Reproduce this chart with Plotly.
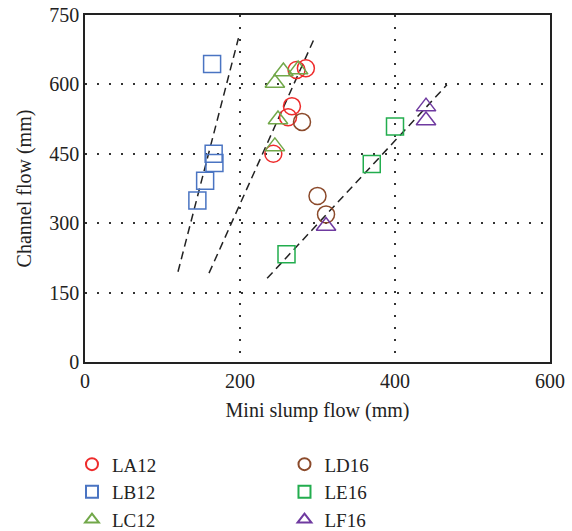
import plotly.graph_objects as go

# Mini slump flow (x) vs channel flow (y), in mm
la12_x = [243, 262, 267, 273, 285]
la12_y = [450, 529, 553, 631, 635]
lb12_x = [145, 155, 167, 166, 164]
lb12_y = [349, 392, 430, 450, 644]
lc12_x = [245, 256, 275, 249, 245]
lc12_y = [603, 628, 632, 524, 466]
ld16_x = [280, 300, 311]
ld16_y = [519, 359, 319]
le16_x = [260, 370, 400]
le16_y = [233, 428, 509]
lf16_x = [311, 440, 440]
lf16_y = [294, 552, 522]

# Trend line end points
fit1_x = [120, 198]
fit1_y = [195, 700]
fit2_x = [160, 295]
fit2_y = [192, 696]
fit3_x = [235, 467]
fit3_y = [181, 599]

x_ticks = [0, 200, 400, 600]
y_ticks = [0, 150, 300, 450, 600, 750]

FONT = "Liberation Serif"
fig = go.Figure()

for fx, fy in [(fit1_x, fit1_y), (fit2_x, fit2_y), (fit3_x, fit3_y)]:
    fig.add_trace(go.Scatter(
        x=fx, y=fy, mode="lines", showlegend=False, hoverinfo="skip",
        line=dict(color="#222222", width=1.5, dash="8px,5px"),
    ))

series = [
    ("LA12", la12_x, la12_y, "circle-open", "#ee2b2b", 17, "legend"),
    ("LB12", lb12_x, lb12_y, "square-open", "#4a74c2", 17, "legend"),
    ("LC12", lc12_x, lc12_y, "triangle-up-open", "#72a84a", 17, "legend"),
    ("LD16", ld16_x, ld16_y, "circle-open", "#8b4a2b", 17, "legend2"),
    ("LE16", le16_x, le16_y, "square-open", "#22ad4e", 17, "legend2"),
    ("LF16", lf16_x, lf16_y, "triangle-up-open", "#6f3aa0", 17, "legend2"),
]
for name, xs, ys, sym, col, sz, lg in series:
    fig.add_trace(go.Scatter(
        x=xs, y=ys, mode="markers", name=name, legend=lg,
        marker=dict(symbol=sym, size=sz, color=col, line=dict(width=1.5, color=col)),
    ))

axis_common = dict(
    showline=True, linecolor="#222222", linewidth=1.5, mirror=True,
    showgrid=True, gridcolor="#333333", gridwidth=1.6, griddash="1.6px,10.4px",
    zeroline=False, ticks="", automargin=False,
    tickfont=dict(family=FONT, size=20, color="#222222"),
)

legend_common = dict(
    xanchor="left", yanchor="top", orientation="v", bgcolor="rgba(0,0,0,0)",
    font=dict(family=FONT, size=19, color="#222222"), tracegroupgap=0,
    itemsizing="constant",
)

fig.update_layout(
    width=572, height=531,
    margin=dict(l=85, r=22, t=15, b=169, autoexpand=False),
    paper_bgcolor="white", plot_bgcolor="white",
    font=dict(family=FONT, size=20, color="#222222"),
    xaxis=dict(range=[0, 600], tickvals=x_ticks,
               title=dict(text="Mini slump flow (mm)", font=dict(family=FONT, size=20), standoff=12),
               **axis_common),
    yaxis=dict(range=[0, 750], tickvals=y_ticks,
               title=dict(text="Channel flow (mm)", font=dict(family=FONT, size=20), standoff=12),
               **axis_common),
    legend=dict(x=-0.028, y=-0.24, **legend_common),
    legend2=dict(x=0.429, y=-0.24, **legend_common),
)

fig.write_html("out.html")
